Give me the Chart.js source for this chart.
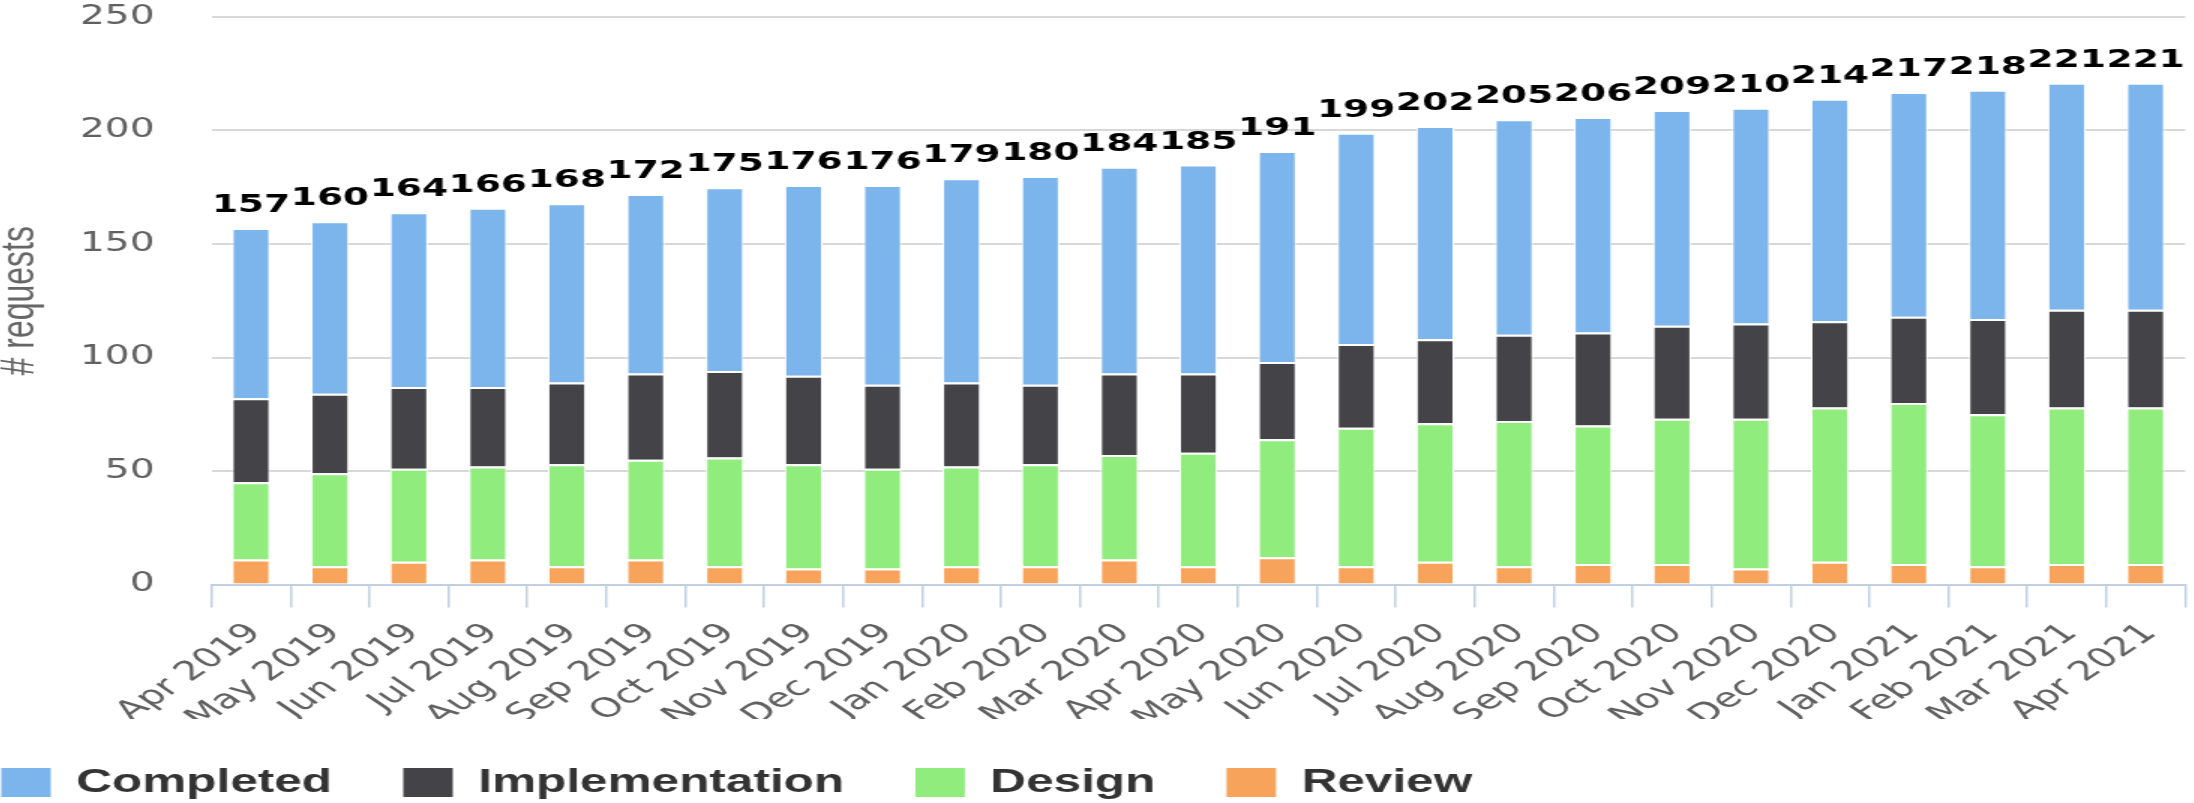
<!DOCTYPE html>
<html>
<head>
<meta charset="utf-8">
<title>Requests per month</title>
<script src="https://cdn.jsdelivr.net/npm/chart.js@4/dist/chart.umd.min.js"></script>
<style>
  html, body { margin: 0; padding: 0; overflow: hidden; background: #fff; width: 2194px; height: 803px; }
  /* the reference is a chart stretched sideways, so draw narrow and stretch */
  #wrap {
    position: absolute; left: -70.5px; top: 0;
    width: 1510px; height: 809px;
    transform: scaleX(1.5); transform-origin: 0 0;
  }
</style>
</head>
<body>
<div id="wrap"><canvas id="requestsChart"></canvas></div>
<script>
const months = [
  'Apr 2019', 'May 2019', 'Jun 2019', 'Jul 2019', 'Aug 2019', 'Sep 2019',
  'Oct 2019', 'Nov 2019', 'Dec 2019', 'Jan 2020', 'Feb 2020', 'Mar 2020',
  'Apr 2020', 'May 2020', 'Jun 2020', 'Jul 2020', 'Aug 2020', 'Sep 2020',
  'Oct 2020', 'Nov 2020', 'Dec 2020', 'Jan 2021', 'Feb 2021', 'Mar 2021',
  'Apr 2021'
];

// stacked from the bottom up
const review = [11, 8, 10, 11, 8, 11, 8, 7, 7, 8, 8, 11, 8, 12, 8, 10, 8, 9, 9, 7, 10, 9, 8, 9, 9];
const design = [34, 41, 41, 41, 45, 44, 48, 46, 44, 44, 45, 46, 50, 52, 61, 61, 64, 61, 64, 66, 68, 71, 67, 69, 69];
const implementation = [37, 35, 36, 35, 36, 38, 38, 39, 37, 37, 35, 36, 35, 34, 37, 37, 38, 41, 41, 42, 38, 38, 42, 43, 43];
const completed = [75, 76, 77, 79, 79, 79, 81, 84, 88, 90, 92, 91, 92, 93, 93, 94, 95, 95, 95, 95, 98, 99, 101, 100, 100];

const totals = months.map((m, i) => review[i] + design[i] + implementation[i] + completed[i]);

const barBorder = { top: 2, left: 1, right: 1, bottom: 0 };

// totals written above each stack
const totalLabels = {
  id: 'totalLabels',
  afterDatasetsDraw(chart) {
    const ctx = chart.ctx;
    const topMeta = chart.getDatasetMeta(chart.data.datasets.length - 1);
    ctx.save();
    ctx.font = 'bold 25px "DejaVu Sans"';
    ctx.fillStyle = '#000';
    ctx.textAlign = 'center';
    ctx.textBaseline = 'alphabetic';
    topMeta.data.forEach((bar, i) => {
      ctx.fillText(String(totals[i]), bar.x, bar.y - 16);
    });
    ctx.restore();
  }
};

const ctx = document.getElementById('requestsChart').getContext('2d');
new Chart(ctx, {
  type: 'bar',
  data: {
    labels: months,
    datasets: [
      { label: 'Review', data: review, backgroundColor: '#f7a35c' },
      { label: 'Design', data: design, backgroundColor: '#90ed7d' },
      { label: 'Implementation', data: implementation, backgroundColor: '#434348' },
      { label: 'Completed', data: completed, backgroundColor: '#7cb5ec' }
    ].map(ds => Object.assign(ds, {
      borderColor: '#ffffff',
      borderWidth: barBorder,
      barPercentage: 0.478,
      categoryPercentage: 1
    }))
  },
  options: {
    responsive: true,
    maintainAspectRatio: false,
    animation: false,
    layout: { padding: { left: 0, top: 17, right: 0, bottom: 0 } },
    plugins: {
      tooltip: { enabled: false },
      legend: {
        position: 'bottom',
        align: 'start',
        reverse: true,
        labels: {
          boxWidth: 34,
          boxHeight: 30,
          padding: 47,
          color: '#333333',
          font: { family: '"Liberation Sans"', size: 33, weight: 'bold' }
        }
      }
    },
    scales: {
      x: {
        stacked: true,
        afterFit: (scale) => { scale.height = 134.5; },
        grid: {
          offset: true,
          drawOnChartArea: false,
          color: '#c0d0e0',
          lineWidth: 1.5,
          tickLength: 23
        },
        border: { display: true, color: '#c0d0e0', width: 2 },
        ticks: {
          autoSkip: false,
          minRotation: 45,
          maxRotation: 45,
          padding: 10,
          labelOffset: 3,
          color: '#606060',
          font: { family: '"DejaVu Sans"', size: 27 }
        }
      },
      y: {
        stacked: true,
        min: 0,
        max: 250,
        afterFit: (scale) => { scale.width = 187.7; },
        // invisible tick marks keep the labels away from the plot
        grid: { color: '#d8d8d8', lineWidth: 2, drawTicks: true, tickLength: 38, tickColor: 'rgba(0,0,0,0)' },
        border: { display: false },
        ticks: {
          stepSize: 50,
          padding: 0,
          color: '#606060',
          font: { family: '"DejaVu Sans"', size: 26 }
        },
        title: {
          display: true,
          text: '# requests',
          color: '#666666',
          padding: { top: 41, bottom: 0 },
          font: { family: '"Liberation Sans"', size: 32 }
        }
      }
    }
  },
  plugins: [totalLabels]
});
</script>
</body>
</html>
